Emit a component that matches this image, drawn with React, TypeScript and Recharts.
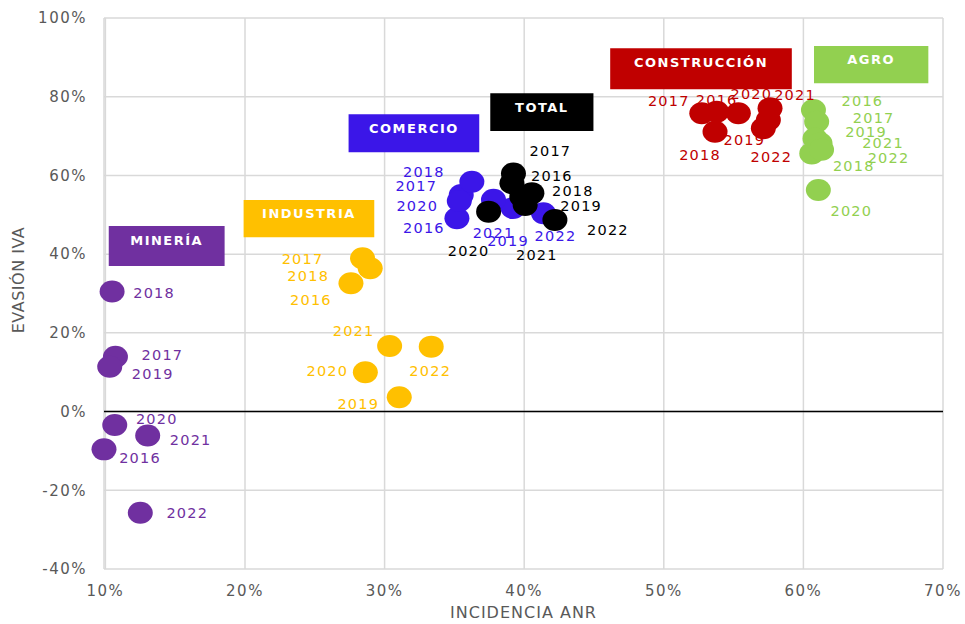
import React from 'react';
import { ScatterChart, Scatter, XAxis, YAxis, CartesianGrid, ReferenceLine, ReferenceArea } from 'recharts';

const years = ['2016', '2017', '2018', '2019', '2020', '2021', '2022'];
const xTicks = [10, 20, 30, 40, 50, 60, 70];
const yTicks = [-40, -20, 0, 20, 40, 60, 80, 100];

// values in %, years 2016..2022
const mineriaX = [9.9, 10.72, 10.48, 10.31, 10.67, 13.03, 12.5];
const mineriaY = [-9.6, 13.95, 30.5, 11.4, -3.4, -6.1, -25.7];
const industriaX = [27.59, 28.42, 28.97, 31.05, 28.62, 30.36, 33.34];
const industriaY = [32.6, 38.95, 36.4, 3.64, 9.98, 16.67, 16.5];
const comercioX = [35.18, 35.49, 36.25, 39.2, 35.35, 37.8, 41.38];
const comercioY = [49.1, 55.0, 58.4, 51.7, 53.5, 53.8, 50.4];
const totalX = [39.12, 39.23, 40.55, 40.07, 37.45, 39.83, 42.2];
const totalY = [58.0, 60.5, 55.5, 52.5, 50.8, 54.6, 48.7];
const construccionX = [53.79, 52.72, 53.67, 57.49, 55.34, 57.61, 57.13];
const construccionY = [76.2, 75.8, 71.1, 74.1, 75.8, 77.05, 72.0];
const agroX = [60.72, 60.95, 60.6, 60.83, 61.07, 61.19, 61.3];
const agroY = [76.6, 73.65, 65.6, 69.4, 56.3, 68.2, 66.5];

// label placement (pixel offsets from point centre), years 2016..2022
const labelOffsets: Record<string, number[][]> = {
  mineria: [[36, 9], [47, -2], [42, 1], [43, 7], [42, -6], [43, 4], [47, 0]],
  industria: [[-40, 17], [-60, 1], [-62, 8], [-41, 7], [-38, -1], [-36, -15], [-1, 24]],
  comercio: [[-33, 10], [-45, -9], [-48, -10], [-5, 33], [-42, 5], [0, 33], [12, 23]],
  total: [[40, -7], [37, -22], [41, -2], [56, 1], [-20, 39], [15, 58], [53, 10]],
  construccion: [[0, -12], [-33, -12], [-15, 23], [-24, 20], [13, -19], [25, -13], [8, 29]],
  agro: [[49, -9], [57, -4], [42, 13], [51, -6], [33, 21], [63, 0], [67, 8]],
};

// annotation boxes in data coordinates
const boxes = [
  { key: 'mineria', text: 'MINERÍA', x1: 10.24, x2: 18.54, y1: 36.99, y2: 47.15 },
  { key: 'industria', text: 'INDUSTRIA', x1: 19.9, x2: 29.26, y1: 44.28, y2: 53.76 },
  { key: 'comercio', text: 'COMERCIO', x1: 27.42, x2: 36.78, y1: 65.88, y2: 75.53 },
  { key: 'total', text: 'TOTAL', x1: 37.57, x2: 44.96, y1: 71.29, y2: 80.87 },
  { key: 'construccion', text: 'CONSTRUCCIÓN', x1: 46.16, x2: 59.17, y1: 81.88, y2: 92.3 },
  { key: 'agro', text: 'AGRO', x1: 60.76, x2: 68.95, y1: 83.41, y2: 92.89 },
];

const colors: Record<string, string> = {
  mineria: '#7030A0',
  industria: '#FFC000',
  comercio: '#3B16E8',
  total: '#000000',
  construccion: '#C00000',
  agro: '#92D050',
};

const sectors = [
  { key: 'mineria', xs: mineriaX, ys: mineriaY },
  { key: 'industria', xs: industriaX, ys: industriaY },
  { key: 'comercio', xs: comercioX, ys: comercioY },
  { key: 'total', xs: totalX, ys: totalY },
  { key: 'construccion', xs: construccionX, ys: construccionY },
  { key: 'agro', xs: agroX, ys: agroY },
].map((s) => ({
  ...s,
  data: years.map((yr, i) => ({ x: s.xs[i], y: s.ys[i], year: yr, idx: i })),
}));

const FONT = 'DejaVu Sans';
const tickStyle = { fill: '#595959', fontSize: 15, fontFamily: FONT, letterSpacing: 1.5 };

const dotShape = (color: string) => (props: any) => {
  const { cx, cy } = props;
  if (cx == null || cy == null) return <g />;
  return <ellipse cx={cx} cy={cy} rx={12.5} ry={11} fill={color} />;
};

const labelShape = (key: string) => (props: any) => {
  const { cx, cy, payload } = props;
  if (cx == null || cy == null) return <g />;
  const off = labelOffsets[key][payload.idx];
  return (
    <text
      x={cx + off[0]}
      y={cy + off[1]}
      textAnchor="middle"
      dominantBaseline="central"
      fill={colors[key]}
      fontSize={14.5}
      fontFamily={FONT}
      letterSpacing={1.2}
    >
      {payload.year}
    </text>
  );
};

const boxLabel = (text: string) => (props: any) => {
  const vb = props.viewBox;
  if (!vb) return null;
  return (
    <text
      x={vb.x + vb.width / 2}
      y={vb.y + 14}
      textAnchor="middle"
      dominantBaseline="central"
      fill="#FFFFFF"
      fontSize={13}
      fontWeight="bold"
      fontFamily={FONT}
      letterSpacing={1.5}
    >
      {text}
    </text>
  );
};

export default function App() {
  return (
    <div style={{ position: 'absolute', left: 0, top: 0, width: 965, height: 624, background: '#fff' }}>
      <ScatterChart width={965} height={624} margin={{ top: 18, right: 22, bottom: 0, left: 0 }}>
        <CartesianGrid stroke="#D9D9D9" strokeWidth={1.5} />
        <XAxis
          type="number"
          dataKey="x"
          domain={[10, 70]}
          ticks={xTicks}
          tickFormatter={(v: number) => `${v}%`}
          axisLine={false}
          tickLine={false}
          tick={tickStyle}
          tickMargin={10}
          height={55}
          interval={0}
          label={(p: any) => {
            const vb = p.viewBox;
            return (
              <text x={vb.x + vb.width / 2} y={612} textAnchor="middle" dominantBaseline="central"
                fill="#595959" fontSize={16} fontFamily={FONT} letterSpacing={1}>
                INCIDENCIA ANR
              </text>
            );
          }}
        />
        <YAxis
          type="number"
          dataKey="y"
          domain={[-40, 100]}
          ticks={yTicks}
          tickFormatter={(v: number) => `${v}%`}
          axisLine={false}
          tickLine={false}
          tick={tickStyle}
          tickMargin={11}
          width={104}
          interval={0}
          label={() => (
            <text x={18} y={280} textAnchor="middle" dominantBaseline="central"
              transform="rotate(-90 18 280)" fill="#595959" fontSize={16} fontFamily={FONT} letterSpacing={0.5}>
              EVASIÓN IVA
            </text>
          )}
        />
        <ReferenceLine y={0} stroke="#000000" strokeWidth={1.5} />
        {boxes.map((b) => (
          <ReferenceArea
            key={b.key}
            x1={b.x1}
            x2={b.x2}
            y1={b.y1}
            y2={b.y2}
            fill={colors[b.key]}
            fillOpacity={1}
            stroke="none"
            label={boxLabel(b.text)}
          />
        ))}
        {sectors.map((s) => (
          <Scatter
            key={s.key}
            name={s.key}
            data={s.data}
            shape={dotShape(colors[s.key])}
            isAnimationActive={false}
          />
        ))}
        {sectors.map((s) => (
          <Scatter
            key={s.key + '-lbl'}
            name={s.key + '-lbl'}
            data={s.data}
            shape={labelShape(s.key)}
            isAnimationActive={false}
          />
        ))}
      </ScatterChart>
    </div>
  );
}
